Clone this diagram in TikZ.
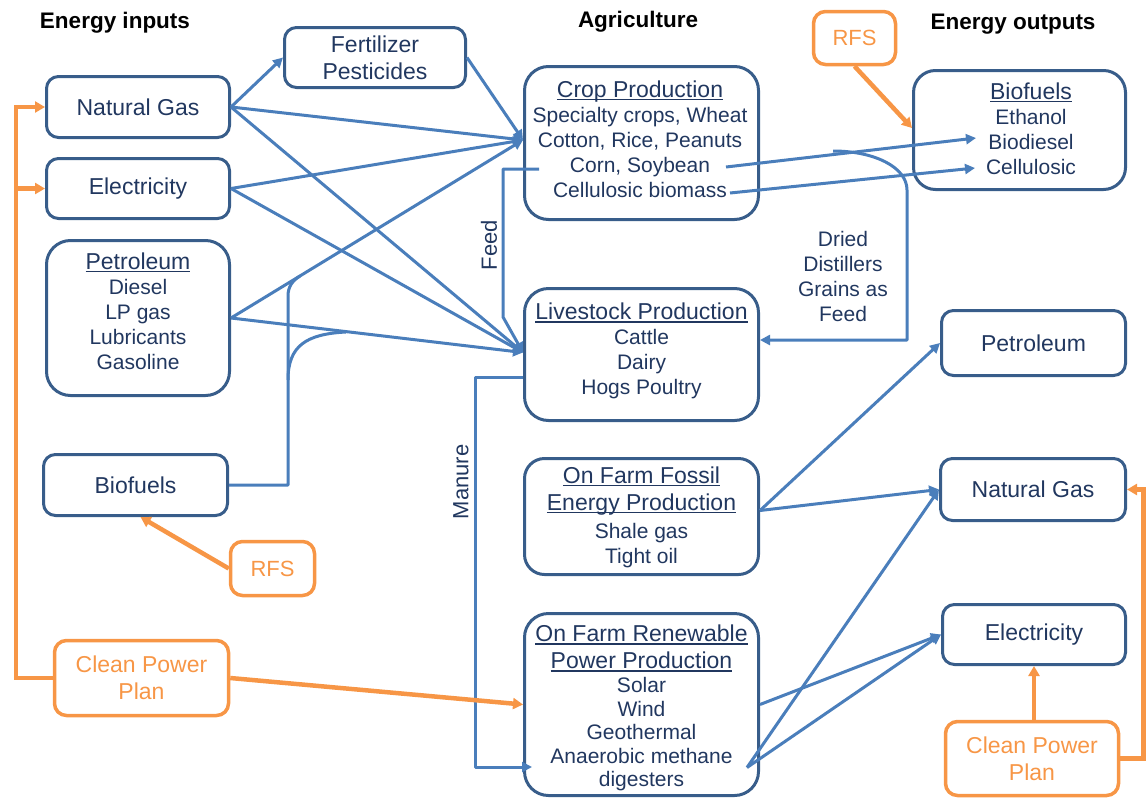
\documentclass[tikz,border=0pt]{standalone}
\usepackage{fontspec}
\setmainfont{Liberation Sans}
\usetikzlibrary{arrows.meta}
\definecolor{txtblue}{RGB}{33,55,95}
\definecolor{boxblue}{RGB}{56,93,138}
\definecolor{lineblue}{RGB}{74,126,187}
\definecolor{orng}{RGB}{247,150,70}
\newcommand\ttlfont{\fontsize{23}{25}\selectfont}
\newcommand\myul[1]{\setbox0=\hbox{#1}\rlap{\rule[-3pt]{\wd0}{1.3pt}}\box0}
\begin{document}
\begin{tikzpicture}[x=1pt,y=-1pt,
  box/.style={draw=boxblue, line width=3pt, rounded corners=12pt, inner sep=0pt,
    text=txtblue, align=center, font=\fontsize{23}{27}\selectfont},
  bigbox/.style={box, rounded corners=24pt},
  obox/.style={draw=orng, line width=3.5pt, rounded corners=12pt, inner sep=0pt,
    text=orng, align=center, font=\fontsize{23}{27}\selectfont},
  txt/.style={text=txtblue, align=center, font=\fontsize{21}{25}\selectfont, inner sep=0pt},
  lbl/.style={text=txtblue, align=center, font=\fontsize{22}{25}\selectfont, inner sep=0pt},
  head/.style={font=\fontsize{22.5}{26}\selectfont\bfseries, text=black, inner sep=0pt},
  conn/.style={draw=lineblue, line width=3pt, line join=round, -{Triangle[length=10pt,width=10pt]}},
  plain/.style={draw=lineblue, line width=3pt, line join=round},
  oconn/.style={draw=orng, line width=4.5pt, -{Triangle[length=10pt,width=11pt]}}]
\useasboundingbox (0,0) rectangle (1147,798);

% headers
\node[head] (h1) at (115,23) {Energy inputs};
\node[head] (h2) at (638,22) {Agriculture};
\node[head] (h3) at (1013,24) {Energy outputs};

% energy inputs
\node[box, minimum width=183pt, minimum height=61pt] (ngin) at (138,107) {Natural Gas};
\node[box, minimum width=183pt, minimum height=60pt] (elin) at (138,188.5) {Electricity};
\node[bigbox, minimum width=183pt, minimum height=155pt] (petin) at (138,318) {};
\node[txt] (petintxt) at (138,311) {{\ttlfont\myul{Petroleum}}\\Diesel\\LP gas\\Lubricants\\Gasoline};
\node[box, minimum width=184pt, minimum height=61pt] (bioin) at (135.5,485) {Biofuels};
\node[obox, minimum width=174pt, minimum height=75pt] (cppl) at (141.5,678) {Clean Power\\Plan};
\node[obox, minimum width=84pt, minimum height=54pt, font=\fontsize{22}{26}\selectfont] (rfsl) at (272.5,568.5) {RFS};
\node[box, minimum width=181pt, minimum height=60pt] (fert) at (375,57.5) {Fertilizer\\Pesticides};

% agriculture
\node[bigbox, minimum width=234pt, minimum height=153pt] (crop) at (641.5,143) {};
\node[txt] (croptxt) at (640,139) {{\ttlfont\myul{Crop Production}}\\Specialty crops, Wheat\\Cotton, Rice, Peanuts\\Corn, Soybean\\Cellulosic biomass};
\node[bigbox, minimum width=234pt, minimum height=132pt] (live) at (641.5,354.5) {};
\node[txt] (livetxt) at (641.5,351) {{\ttlfont\myul{Livestock Production}}\\Cattle\\Dairy\\Hogs Poultry};
\node[bigbox, rounded corners=20pt, minimum width=234pt, minimum height=116pt] (foss) at (641.5,516.5) {};
\node[txt] (fosstxt) at (641.5,517) {{\ttlfont\myul{On Farm Fossil}}\\[2pt]{\ttlfont\myul{Energy Production}}\\[3pt]Shale gas\\Tight oil};
\node[bigbox, minimum width=234pt, minimum height=182pt] (renew) at (641.5,704.5) {};
\node[txt, font=\fontsize{21}{23.5}\selectfont] (renewtxt) at (641.5,708) {{\ttlfont\myul{On Farm Renewable}}\\[3.5pt]{\ttlfont\myul{Power Production}}\\[0.5pt]Solar\\Wind\\Geothermal\\Anaerobic methane\\digesters};
\node[txt] (ddgtxt) at (843,276) {Dried\\Distillers\\Grains as\\Feed};
\node[lbl, rotate=90] (feedlbl) at (489,245) {Feed};
\node[lbl, rotate=90] (manurelbl) at (461,482) {Manure};

% energy outputs
\node[obox, minimum width=82pt, minimum height=53pt, font=\fontsize{22}{26}\selectfont] (rfst) at (854.5,38) {RFS};
\node[bigbox, rounded corners=22pt, minimum width=212pt, minimum height=119pt] (bioout) at (1019.5,130) {};
\node[txt] (biouttxt) at (1031,128.5) {{\ttlfont\myul{Biofuels}}\\Ethanol\\Biodiesel\\Cellulosic};
\node[box, minimum width=184pt, minimum height=65pt] (petout) at (1033.5,343) {Petroleum};
\node[box, minimum width=185pt, minimum height=62pt] (ngout) at (1033,489.5) {Natural Gas};
\node[box, minimum width=183pt, minimum height=60pt] (elout) at (1034,634.5) {Electricity};
\node[obox, minimum width=173pt, minimum height=74pt] (cppr) at (1032,758.5) {Clean Power\\Plan};

% junction coordinates
\coordinate (bjx) at (288,485);
\coordinate (bjtop) at (288,296);
\coordinate (bjmerge) at (300,276);
\coordinate (bjbr) at (288,380);
\coordinate (bjbrend) at (346,332);
\coordinate (feedc1) at (503,169);
\coordinate (feedc2) at (503,317);
\coordinate (manc1) at (475,377);
\coordinate (manc2) at (475,767);
\coordinate (ddg) at (833,151);
\coordinate (ddgc) at (907,340);
\coordinate (cpplj) at (16,678);

% inputs to agriculture
\draw[conn] (ngin.east) -- (fert.west);
\draw[conn] (fert.east) -- ([yshift=3pt]crop.west);
\draw[conn] (ngin.east) -- ([yshift=3pt]crop.west);
\draw[conn] (ngin.east) -- ([yshift=2pt]live.west);
\draw[conn] (elin.east) -- ([yshift=3pt]crop.west);
\draw[conn] (elin.east) -- ([yshift=2pt]live.west);
\draw[conn] (petin.east) -- ([yshift=3pt]crop.west);
\draw[conn] (petin.east) -- ([yshift=2pt]live.west);
\draw[plain] (bioin.east) -- (bjx) -- (bjtop) .. controls (288,287) and (292,281) .. (bjmerge);
\draw[plain] (bjbr) .. controls (288,346) and (306,334) .. (bjbrend);

% feed and manure
\draw[conn] ([xshift=16pt,yshift=-26pt]crop.west) -- (feedc1) -- (feedc2) -- ([yshift=2pt]live.west);
\draw[conn] ([yshift=-22.5pt]live.west) -- (manc1) -- (manc2) -- ([xshift=9pt,yshift=-62.5pt]renew.west);

% crops to biofuels, DDG
\draw[conn] ([xshift=-34pt,yshift=-24pt]crop.east) -- ([xshift=64pt,yshift=-8pt]bioout.west);
\draw[conn] ([xshift=-30pt,yshift=-50pt]crop.east) -- ([xshift=63pt,yshift=-38pt]bioout.west);
\draw[conn] (ddg) .. controls (874,151) and (907,167) .. (907,190) -- (ddgc) -- ([yshift=14.5pt]live.east);

% farm production to outputs
\draw[conn] ([yshift=6pt]foss.east) -- (petout.west);
\draw[conn] ([yshift=6pt]foss.east) -- (ngout.west);
\draw[conn] (renew.east) -- (elout.west);
\draw[conn] ([xshift=-13pt,yshift=-63pt]renew.east) -- (ngout.west);
\draw[conn] ([xshift=-13pt,yshift=-63pt]renew.east) -- (elout.west);

% policies
\draw[oconn] (rfst.south) -- ([yshift=2pt]bioout.west);
\draw[oconn] (rfsl.west) -- ([xshift=5pt]bioin.south);
\draw[oconn] (cppl.west) -- (cpplj) |- (ngin.west);
\draw[oconn] (elin.west -| cpplj) -- (elin.west);
\draw[oconn] (cppl.east) -- (renew.west);
\draw[oconn] (cppr.north -| elout.south) -- (elout.south);
\draw[oconn] (cppr.east) -- ++(23,0) |- (ngout.east);
\end{tikzpicture}
\end{document}
